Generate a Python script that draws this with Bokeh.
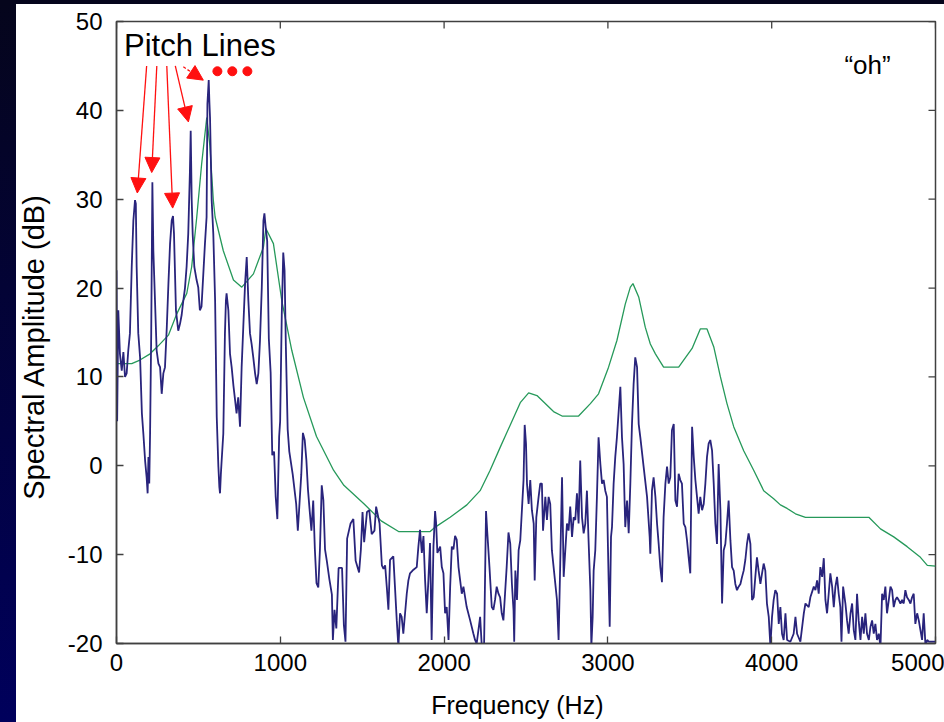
from bokeh.plotting import figure
from bokeh.models import (Range1d, FixedTicker, ColumnDataSource, Arrow, NormalHead, Spacer)
from bokeh.layouts import row, column
from bokeh.core.properties import value
from bokeh.embed import file_html
from bokeh.resources import INLINE
import math

# ---------------- data ----------------
x_ticks = [0, 1000, 2000, 3000, 4000, 5000]
y_ticks = [-20, -10, 0, 10, 20, 30, 40, 50]
y_tick_labels = {-20: "-20", -10: "-10"}

blue_pts = [
    (0, 22), (4, 5), (11, 17.5), (21, 12.6), (32, 10.7), (42, 12.8), (52, 10), (62, 10.4), (72, 13),
    (82, 14.9), (93, 22.4), (103, 27.6), (113, 29.9), (118, 29.5), (123, 22.4), (133, 14.9), (144, 12.2),
    (155, 5.9), (164, 3.6), (175, 0.5), (184, -1.3), (190, -3.1), (195, 1), (200, -2), (205, 3.6),
    (212, 15), (219, 31.9), (225, 24.2), (235, 18.6), (245, 13), (256, 11.5), (266, 11.1), (276, 8.1),
    (286, 10.4), (296, 11.1), (307, 15.6), (317, 20.5), (327, 25), (337, 27.6), (345, 28.1), (351, 26.1),
    (363, 17.5), (377, 15.2), (388, 16), (398, 17), (408, 18.6), (418, 20), (428, 22.4), (438, 26.1),
    (448, 33), (453, 37.7), (459, 30), (465, 26.1), (475, 22.4), (489, 20.9), (499, 20.1), (509, 17.5),
    (519, 17.9), (530, 21.6), (540, 25), (550, 28), (555, 40.7), (563, 43.4), (567, 41), (571, 39.2),
    (581, 29.9), (591, 26.1), (602, 18.6), (612, 5.5), (622, -0.1), (628, -2.4), (632, -3.1), (637, -1),
    (642, 0.6), (652, 3.6), (662, 14.9), (668, 18.6), (672, 19.4), (683, 17.5), (693, 12.6), (703, 11.1),
    (714, 9), (724, 7.4), (733, 5.9), (743, 7.7), (754, 4.4), (764, 11.1), (774, 15.6), (785, 20.5),
    (795, 23.5), (805, 18.6), (815, 14.9), (825, 13.7), (835, 12.2), (846, 10.4), (856, 9.2), (866, 10.4),
    (876, 14.1), (887, 20.1), (897, 27.6), (903, 28.4), (910, 27), (920, 25.3), (930, 14.3),
    (941, 10.5), (951, 1.2), (962, 1.6), (972, -3.5), (982, -6), (993, 3.3), (999, 5), (1009, 17),
    (1018, 24), (1026, 22), (1034, 13.4), (1045, 4.1), (1055, 1.6), (1076, -1), (1097, -4.3),
    (1107, -7.3), (1117, -4.3), (1128, -1), (1138, 3.7), (1149, 2.9), (1159, 0.7), (1169, -2.7),
    (1180, -5.2), (1190, -7.3), (1201, -3.9), (1211, -9.4), (1221, -13.2), (1232, -13.7), (1242, -9.4),
    (1253, -2.2), (1263, -3.9), (1273, -9.4), (1284, -10.7), (1300, -12.8), (1315, -14.5), (1321, -19.6),
    (1331, -16.2), (1342, -18.3), (1356, -11.5), (1377, -11.5), (1388, -17.9), (1398, -19.8), (1408, -8.2),
    (1419, -7.3), (1429, -6.5), (1446, -6), (1460, -10.7), (1481, -12), (1492, -9.4), (1502, -5.2),
    (1512, -8.6), (1529, -5.2), (1543, -5), (1558, -7.7), (1575, -7.3), (1585, -4.6), (1606, -6.5),
    (1620, -11.2), (1630, -11.6), (1640, -11.2), (1650, -13.6), (1660, -16.2), (1670, -10.6), (1690, -10.2),
    (1700, -13.6), (1711, -17.4), (1721, -20.4), (1731, -16.6), (1741, -17), (1751, -18.9), (1772, -14.4),
    (1782, -12.9), (1792, -12.1), (1813, -11.7), (1833, -11.4), (1843, -9.1), (1853, -7.2), (1864, -9.8),
    (1874, -7.9), (1884, -12.9), (1894, -16.6), (1904, -12.9), (1914, -8.7), (1924, -19.6), (1935, -9.1),
    (1945, -5.1), (1951, -6.4), (1959, -9.8), (1976, -9.1), (1986, -11.4), (1996, -12.1), (2006, -16.6),
    (2016, -15.9), (2027, -19.6), (2037, -13.6), (2047, -9.1), (2057, -9.4), (2067, -7.9), (2077, -8.3),
    (2088, -11.4), (2098, -12.9), (2108, -14.4), (2118, -13.6), (2138, -15.9), (2159, -17.4), (2179, -18.9),
    (2189, -19.6), (2199, -20), (2220, -17), (2230, -20.3), (2244, -20.3), (2256, -5.1), (2264, -7.6),
    (2277, -11.4), (2291, -15.9), (2301, -16.2), (2311, -15.1), (2321, -13.6), (2332, -14.4), (2342, -14.8),
    (2352, -16.6), (2362, -17.4), (2372, -14.4), (2382, -11.4), (2393, -7.5),
    (2404, -8.8), (2414, -13.3), (2424, -16.3), (2428, -19.8), (2435, -11.8), (2445, -15.1), (2455, -9.5),
    (2465, -8.4), (2475, -5), (2485, -1.6), (2492, 4.6), (2500, 2.5), (2506, -2), (2516, -4.3), (2526, -1.6),
    (2536, -5), (2547, -6.5), (2553, -12.9), (2563, -5.8), (2577, -3.5), (2587, -2), (2597, -2), (2604, -7.3),
    (2618, -3.5), (2628, -6.1), (2638, -3.5), (2648, -4.3), (2658, -9.5), (2679, -13.3), (2689, -15.1),
    (2699, -19.6), (2709, -11), (2720, -1.3), (2730, -12.5), (2740, -9.5), (2750, -6.5), (2760, -7.3),
    (2770, -4.6), (2781, -8), (2791, -5.8), (2801, -6.1), (2811, -3.1), (2821, -6.5), (2831, 0.6),
    (2842, -5.8), (2852, -7.6), (2862, -6.5), (2872, -2.8), (2882, -8.4), (2893, -14), (2899, -20.3),
    (2907, -17), (2913, -11.8), (2923, -9.5), (2933, -3.5), (2943, 3.2), (2954, 0.2), (2964, -2),
    (2974, -1.6), (2984, -2.8), (2994, -3.5), (3005, -13.3), (3011, -18.1), (3019, -8), (3025, -6.9),
    (3035, -2), (3045, 1), (3055, 3.2), (3066, 6.2), (3076, 8.9), (3086, 3.2), (3096, 0.2), (3106, -6.9),
    (3117, -3.9), (3127, -7.6), (3137, -2), (3147, 4.7), (3157, 9.2), (3167, 12.2), (3178, 11.1),
    (3188, 4.7), (3198, 3.2), (3218, -0.1), (3239, -3.5), (3255, -8),
    (3259, -9.9), (3269, -2.8), (3279, -1.3), (3290, -3.5), (3300, -6.5), (3310, -8.8), (3320, -11.4),
    (3330, -13.1), (3340, -5.8), (3351, -2), (3361, -0.1), (3371, -2), (3381, -1.3), (3391, 4), (3402, 4.7),
    (3412, -3.9), (3422, -4.6), (3432, -0.9), (3442, -1.6), (3452, -2), (3463, -6.5), (3473, -6.9),
    (3483, -8.4), (3493, -10.3), (3503, -12.1), (3514, 4.4), (3524, 1), (3534, -1.6), (3544, -3.5),
    (3554, -5.4), (3564, -3.5), (3575, -5), (3585, -4.3), (3595, -2), (3605, 1), (3615, 2.5), (3625, 2.9),
    (3636, 1.7), (3646, -2), (3656, -6.5), (3666, -8.8), (3676, 0.2), (3687, -5), (3697, -15.5),
    (3707, -9.5), (3717, -8.8), (3727, -6.5), (3737, -3.9), (3748, -8.4), (3758, -11.4), (3768, -11.8),
    (3778, -13.3), (3788, -14), (3798, -13.6), (3809, -13.3), (3819, -12.5), (3829, -11.8), (3839, -10.6),
    (3849, -8.8), (3859, -7.6), (3870, -8.8), (3880, -15.1), (3890, -14.8), (3900, -12.5), (3910, -10.3),
    (3920, -11.8), (3931, -13.3), (3941, -12.1), (3951, -11), (3961, -11.8), (3971, -15.5), (3982, -17),
    (3992, -20.3), (4002, -17), (4012, -15.1), (4022, -14), (4033, -14.4), (4043, -17.8),
    (4053, -15.9), (4063, -18.9), (4073, -19.6), (4084, -16.6), (4094, -19.6), (4114, -19.8), (4134, -18.9),
    (4145, -17), (4155, -18.9), (4175, -19.8), (4196, -16.6), (4206, -15.5), (4226, -15.9), (4236, -14.8),
    (4257, -13.6), (4267, -14), (4277, -12.9), (4287, -14.4), (4297, -11.4), (4308, -12.5), (4318, -10.4),
    (4328, -15.1), (4338, -16.6), (4348, -14.4), (4358, -12.1), (4369, -13.6), (4379, -15.9), (4389, -13.6),
    (4399, -12.5), (4409, -14.4), (4419, -15.9), (4426, -19.8), (4436, -13.6), (4450, -15.5), (4460, -17.4),
    (4470, -18.9), (4481, -16.6), (4491, -15.5), (4501, -18.5), (4511, -19.6), (4521, -14.4), (4531, -17.4),
    (4542, -19.6), (4552, -17), (4562, -18.9), (4572, -16.6), (4582, -18.9), (4593, -19.6), (4603, -18.1),
    (4613, -17.4), (4623, -18.9), (4633, -17.8), (4643, -19.6), (4654, -18.9), (4664, -20.4), (4674, -14.4),
    (4684, -15.1), (4694, -13.6), (4704, -16.6), (4715, -15.1), (4725, -13.6), (4735, -14), (4745, -15.9),
    (4755, -15.1), (4765, -14.8), (4775, -15.1), (4786, -15.5), (4796, -15.1), (4806, -15.5), (4816, -14),
    (4826, -14.8), (4837, -15.1), (4847, -15.5), (4857, -14.8), (4867, -14.4), (4877, -17.8), (4888, -16.6),
    (4898, -17.4), (4908, -18.5), (4918, -19.6), (4928, -16.6), (4939, -20.3), (4949, -19.6), (4959, -19.8),
    (4969, -19.8), (4990, -19.8), (5000, -19.8),
]
blue_freq = [f for f, _ in blue_pts]
blue_db = [d for _, d in blue_pts]

env_freq = [0, 93, 143, 205, 255, 317, 368, 429, 459, 490, 520, 551, 570, 591, 602, 652, 714, 765, 836,
            897, 912, 958, 1009, 1070, 1141, 1221, 1325, 1388, 1512, 1616, 1722, 1915, 1946, 2037, 2139,
            2220, 2281, 2343, 2404, 2465, 2516, 2567, 2668, 2720, 2821, 2893, 2943, 3004, 3055, 3106, 3137,
            3153, 3188, 3228, 3259, 3290, 3340, 3432, 3514, 3564, 3605, 3646, 3687, 3727, 3768, 3829, 3890,
            3951, 4012, 4053, 4094, 4145, 4206, 4593, 4664, 4745, 4827, 4908, 4950, 5000]
env_db = [11.5, 11.5, 11.9, 12.6, 13.5, 14.7, 17.1, 19.4, 22.4, 28, 34, 39.2, 36, 29.9, 28, 24.2, 20.9,
          20.1, 21.6, 24.6, 26.7, 25, 18.6, 13, 7.7, 3.3, -0.5, -2.2, -4.3, -6.2, -7.4, -7.4, -6.9, -5.8,
          -4.4, -2.8, -0.5, 2.1, 4.6, 7.1, 8.2, 7.9, 6.1, 5.6, 5.6, 7, 8.1, 11.1, 14.1, 18.2, 20.1, 20.5,
          19, 15.6, 13.7, 12.6, 11.1, 11.1, 13.2, 15.4, 15.4, 13.4, 10, 7, 4.4, 1.7, -0.5, -2.8, -3.7,
          -4.4, -4.8, -5.4, -5.8, -5.8, -7.1, -8, -9.1, -10.3, -11.2, -11.3]

# annotation arrows ("Pitch Lines") in data units
arrow_x0 = [184, 246, 307, 359]
arrow_y0 = [45.0, 45.0, 45.0, 45.0]
arrow_x1 = [127, 215, 343, 439]
arrow_y1 = [30.7, 33.0, 29.0, 38.7]
dash_arrow = dict(x0=408, y0=44.9, x1=530, y1=43.4)
dots_x = [616, 707, 799]
dots_y = [44.4, 44.4, 44.4]
pitch_label = dict(x=46, y=47.3, text="Pitch Lines")
vowel_label = dict(x=4444, y=45.1, text="\u201coh\u201d")
y_title = dict(y=13.4, text="Spectral Amplitude (dB)")
x_title = dict(x=2447, text="Frequency (Hz)")

FONT = "Liberation Sans"
BLUE = "#29247c"
GREEN = "#26995a"
RED = "#ff1010"
AX = "#404040"
DARK = "linear-gradient(#05051c, #00005c)"

H = 718                  # height below the 4px top band
LBL_W = 38               # strip that holds the y-axis title
XL_H = 36                # strip that holds the x-axis title
W = 928 - LBL_W
B_LEFT, B_RIGHT, B_TOP, B_BOTTOM = 100 - LBL_W, 9, 17, 79 - XL_H
TICK_PX = 7

p = figure(width=W, height=H - XL_H, output_backend="svg", toolbar_location=None,
           x_range=Range1d(0, 5000), y_range=Range1d(-20, 50),
           min_border_left=B_LEFT, min_border_right=B_RIGHT,
           min_border_top=B_TOP, min_border_bottom=B_BOTTOM,
           background_fill_color="white", border_fill_color="white")
p.grid.visible = False
p.outline_line_color = AX
p.outline_line_width = 1.5

p.line(env_freq, env_db, line_color=GREEN, line_width=1.3)
p.line(blue_freq, blue_db, line_color=BLUE, line_width=1.8)

asrc = ColumnDataSource(dict(x0=arrow_x0, y0=arrow_y0, x1=arrow_x1, y1=arrow_y1))
p.add_layout(Arrow(source=asrc, x_start="x0", y_start="y0", x_end="x1", y_end="y1",
                   line_color=RED, line_width=1.3,
                   end=NormalHead(size=15, fill_color=RED, line_color=RED, line_width=1)))
p.add_layout(Arrow(x_start=dash_arrow["x0"], y_start=dash_arrow["y0"],
                   x_end=dash_arrow["x1"], y_end=dash_arrow["y1"],
                   line_color=RED, line_width=1.3, line_dash="3 2",
                   end=NormalHead(size=15, fill_color=RED, line_color=RED, line_width=1)))
p.scatter(dots_x, dots_y, size=9, color=RED)

p.text(x=[pitch_label["x"]], y=[pitch_label["y"]], text=[pitch_label["text"]],
       text_font=value(FONT), text_font_size="31px", text_color="black",
       text_baseline="alphabetic", text_align="left")
p.text(x=[vowel_label["x"]], y=[vowel_label["y"]], text=[vowel_label["text"]],
       text_font=value(FONT), text_font_size="26px", text_color="black",
       text_baseline="alphabetic", text_align="left")

# mirrored (inward) box ticks on the top and right edges
xr, yr = p.x_range, p.y_range
frame_w = W - B_LEFT - B_RIGHT
frame_h = (H - XL_H) - B_TOP - B_BOTTOM
tick_dx = TICK_PX * (xr.end - xr.start) / frame_w
tick_dy = TICK_PX * (yr.end - yr.start) / frame_h
p.segment(x0=x_ticks, y0=[yr.end] * len(x_ticks), x1=x_ticks, y1=[yr.end - tick_dy] * len(x_ticks),
          line_color=AX, line_width=1.3)
p.segment(x0=[xr.end] * len(y_ticks), y0=y_ticks, x1=[xr.end - tick_dx] * len(y_ticks), y1=y_ticks,
          line_color=AX, line_width=1.3)

# main axes
xa = p.xaxis[0]
ya = p.yaxis[0]
xa.ticker = FixedTicker(ticks=x_ticks)
ya.ticker = FixedTicker(ticks=y_ticks)
ya.major_label_overrides = y_tick_labels
for ax in (xa, ya):
    ax.axis_line_color = AX
    ax.axis_line_width = 1.5
    ax.major_tick_line_color = AX
    ax.major_tick_line_width = 1.3
    ax.major_tick_in = TICK_PX
    ax.major_tick_out = 0
    ax.minor_tick_line_color = None
    ax.major_label_text_font = FONT
    ax.major_label_text_font_size = "24px"
    ax.major_label_text_color = "black"
xa.major_label_standoff = 10
ya.major_label_standoff = 14

# strip below the plot carrying the x-axis title (shares the x scale)
xlab = figure(width=W, height=XL_H, output_backend="svg", toolbar_location=None,
              x_range=xr, y_range=Range1d(0, XL_H),
              min_border_left=B_LEFT, min_border_right=B_RIGHT, min_border_top=0, min_border_bottom=0,
              background_fill_color="white", border_fill_color="white", outline_line_color=None)
xlab.axis.visible = False
xlab.grid.visible = False
xlab.text(x=[x_title["x"]], y=[XL_H / 2], text=[x_title["text"]],
          text_font=value(FONT), text_font_size="25px", text_color="black",
          text_align="center", text_baseline="middle")

# strip left of the plot carrying the rotated y-axis title (shares the y scale)
ylab = figure(width=LBL_W, height=H, output_backend="svg", toolbar_location=None,
              x_range=Range1d(0, LBL_W), y_range=Range1d(yr.start, yr.end),
              min_border_left=0, min_border_right=0, min_border_top=B_TOP, min_border_bottom=79,
              background_fill_color="white", border_fill_color="white", outline_line_color=None)
ylab.axis.visible = False
ylab.grid.visible = False
ylab.text(x=[LBL_W / 2 - 2], y=[y_title["y"]], text=[y_title["text"]], angle=math.pi / 2,
          text_font=value(FONT), text_font_size="29px", text_color="black",
          text_align="center", text_baseline="middle")

top_band = Spacer(width=944, height=4, styles={"background": "#05051c"})
left_band = Spacer(width=16, height=H, styles={"background": DARK})
layout = column(top_band, row(left_band, ylab, column(p, xlab)))

open("out.html", "w").write(file_html(layout, INLINE))
